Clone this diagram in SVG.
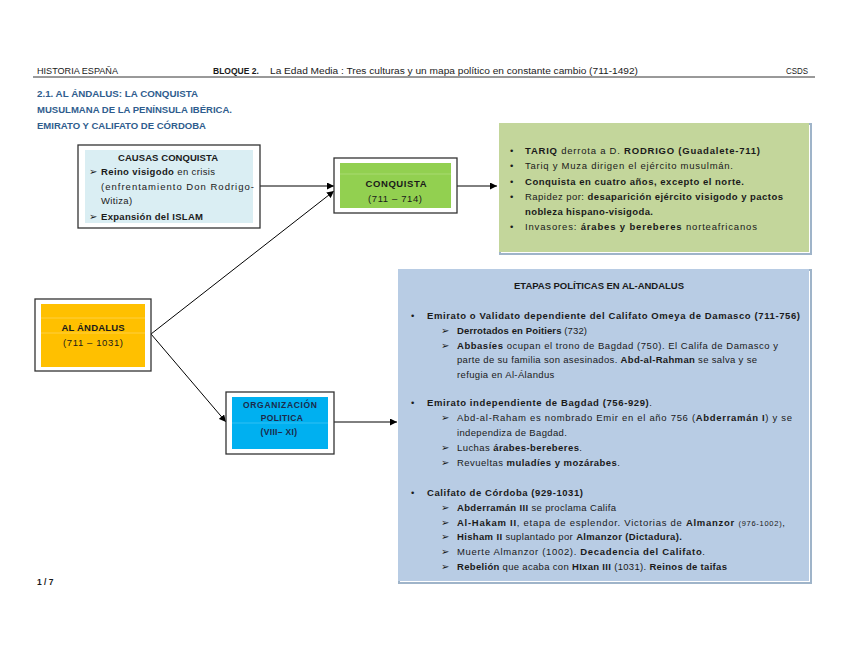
<svg xmlns="http://www.w3.org/2000/svg" width="848" height="655" viewBox="0 0 848 655">
<defs>
<marker id="ah" viewBox="0 0 10 10" refX="10" refY="5" markerWidth="7" markerHeight="7" markerUnits="userSpaceOnUse" orient="auto">
<path d="M0,0 L10,5 L0,10 z" fill="#000"/>
</marker>
</defs>
<style>
text{font-family:"Liberation Sans",Arial,sans-serif;fill:#1a1a1a;}
.hd{font-size:8.5px;}
.ti{font-size:9px;font-weight:bold;fill:#2f5d8e;}
.t{font-size:9.5px;}
.b{font-weight:bold;}
.c{text-anchor:middle;font-weight:bold;}
.ls{letter-spacing:0.35px;}
.frame{fill:#fff;stroke:#333;stroke-width:1.3;}
.conn{stroke:#000;stroke-width:1;fill:none;marker-end:url(#ah);}
.shadow{fill:none;stroke:#9fb4c9;stroke-width:2;}
.org{font-size:8.5px;fill:#1c2a4a;}
</style>
<rect width="848" height="655" fill="#fff"/>

<g id="header">
<text class="hd" x="37" y="74" textLength="81" lengthAdjust="spacingAndGlyphs">HISTORIA ESPAÑA</text>
<text class="hd b" x="213" y="74">BLOQUE 2.</text>
<text class="hd" x="270" y="74" textLength="368" lengthAdjust="spacingAndGlyphs">La Edad Media : Tres culturas y un mapa político en constante cambio (711-1492)</text>
<text class="hd" x="786" y="74" textLength="22" lengthAdjust="spacingAndGlyphs">CSDS</text>
<line x1="33" y1="77" x2="815" y2="77" stroke="#000" stroke-width="0.8"/>
</g>

<g id="title">
<text class="ti" x="37" y="97" textLength="161" lengthAdjust="spacingAndGlyphs">2.1.  AL ÁNDALUS: LA CONQUISTA</text>
<text class="ti" x="37" y="113" textLength="195" lengthAdjust="spacingAndGlyphs">MUSULMANA DE LA PENÍNSULA IBÉRICA.</text>
<text class="ti" x="37" y="129" textLength="169" lengthAdjust="spacingAndGlyphs">EMIRATO Y CALIFATO DE CÓRDOBA</text>
</g>

<g id="connectors">
<line class="conn" x1="260" y1="186" x2="334" y2="186"/>
<line class="conn" x1="151" y1="334" x2="334" y2="191"/>
<line class="conn" x1="151" y1="334" x2="226" y2="422"/>
<line class="conn" x1="457" y1="186" x2="497" y2="186"/>
<line class="conn" x1="334" y1="422" x2="397" y2="422"/>
</g>

<g id="causas">
<rect class="frame" x="78" y="145" width="182" height="83"/>
<rect x="85" y="150" width="168" height="73" fill="#daeef3"/>
<text class="t c" x="168" y="161" textLength="100" lengthAdjust="spacing">CAUSAS CONQUISTA</text>
<text class="t" x="89" y="175">➢</text>
<text class="t" x="101" y="175" textLength="114" lengthAdjust="spacing"><tspan class="b">Reino visigodo</tspan> en crisis</text>
<text class="t" x="101" y="190" textLength="153" lengthAdjust="spacing">(enfrentamiento Don Rodrigo-</text>
<text class="t ls" x="101" y="204">Witiza)</text>
<text class="t" x="89" y="220">➢</text>
<text class="t b" x="101" y="220" textLength="102" lengthAdjust="spacing">Expansión del ISLAM</text>
</g>

<g id="conquista">
<rect class="frame" x="334" y="158" width="123" height="55"/>
<rect x="340" y="163" width="111" height="45" fill="#92d050"/>
<line x1="340" y1="174" x2="451" y2="174" stroke="#a8da70" stroke-width="1"/>
<text class="t c" x="396" y="187" textLength="61" lengthAdjust="spacing">CONQUISTA</text>
<text class="t" x="395" y="202" text-anchor="middle" textLength="54" lengthAdjust="spacing">(711 – 714)</text>
</g>

<g id="hechos">
<rect class="shadow" x="500" y="124" width="311" height="130"/>
<rect x="499" y="123" width="310" height="129" fill="#c3d69b"/>
<g class="t">
<text x="510" y="154">•</text>
<text x="525" y="154" textLength="235" lengthAdjust="spacing"><tspan class="b">TARIQ</tspan> derrota a D. <tspan class="b">RODRIGO (Guadalete-711)</tspan></text>
<text x="510" y="169">•</text>
<text x="525" y="169" textLength="208" lengthAdjust="spacing">Tariq y Muza dirigen el ejército musulmán.</text>
<text x="510" y="185">•</text>
<text x="525" y="185" class="b" textLength="219" lengthAdjust="spacing">Conquista en cuatro años, excepto el norte.</text>
<text x="510" y="200">•</text>
<text x="525" y="200" textLength="258" lengthAdjust="spacing">Rapidez por: <tspan class="b">desaparición ejército visigodo y pactos</tspan></text>
<text x="525" y="215" class="b" textLength="128" lengthAdjust="spacing">nobleza hispano-visigoda.</text>
<text x="510" y="230">•</text>
<text x="525" y="230" textLength="232" lengthAdjust="spacing">Invasores: <tspan class="b">árabes y bereberes</tspan> norteafricanos</text>
</g>
</g>

<g id="alandalus">
<rect class="frame" x="35" y="299" width="116" height="72"/>
<rect x="41" y="304" width="104" height="63" fill="#ffc000"/>
<line x1="41" y1="318" x2="145" y2="318" stroke="#ffcf40" stroke-width="1"/>
<line x1="41" y1="333" x2="145" y2="333" stroke="#ffcf40" stroke-width="1"/>
<text class="t c" x="93" y="331" textLength="63" lengthAdjust="spacing">AL ÁNDALUS</text>
<text class="t" x="93" y="346" text-anchor="middle" textLength="60" lengthAdjust="spacing">(711 – 1031)</text>
</g>

<g id="organizacion">
<rect class="frame" x="226" y="392" width="108" height="62"/>
<rect x="232" y="397" width="96" height="52" fill="#00b0f0"/>
<line x1="232" y1="423" x2="328" y2="423" stroke="#30c0f4" stroke-width="1"/>
<text class="org c" x="280" y="408" textLength="74" lengthAdjust="spacing">ORGANIZACIÓN</text>
<text class="org c ls" x="282" y="421">POLITICA</text>
<text class="org c ls" x="279" y="435">(VIII– XI)</text>
</g>

<g id="etapas">
<rect class="shadow" x="399" y="270" width="412" height="313"/>
<rect x="398" y="269" width="411" height="312" fill="#b8cce4"/>
<g class="t">
<text class="c" x="599" y="289" textLength="170" lengthAdjust="spacing">ETAPAS POLÍTICAS EN AL-ANDALUS</text>
<text x="411" y="319">•</text>
<text x="427" y="319" class="b" textLength="373" lengthAdjust="spacing">Emirato o Validato dependiente del Califato Omeya de Damasco (711-756)</text>
<text x="441" y="334">➢</text>
<text x="457" y="334" textLength="130" lengthAdjust="spacing"><tspan class="b">Derrotados en Poitiers</tspan> (732)</text>
<text x="441" y="349">➢</text>
<text x="457" y="349" textLength="321" lengthAdjust="spacing"><tspan class="b">Abbasíes</tspan> ocupan el trono de Bagdad (750). El Califa de Damasco y</text>
<text x="457" y="363" textLength="300" lengthAdjust="spacing">parte de su familia son asesinados. <tspan class="b">Abd-al-Rahman</tspan> se salva y se</text>
<text class="ls" x="457" y="378">refugia en Al-Álandus</text>

<text x="411" y="406">•</text>
<text x="427" y="406" textLength="225" lengthAdjust="spacing"><tspan class="b">Emirato independiente de Bagdad (756-929)</tspan>.</text>
<text x="441" y="421">➢</text>
<text x="457" y="421" textLength="335" lengthAdjust="spacing">Abd-al-Raham  es nombrado Emir en el año 756 (<tspan class="b">Abderramán I</tspan>) y se</text>
<text class="ls" x="457" y="436">independiza de Bagdad.</text>
<text x="441" y="451">➢</text>
<text x="457" y="451" textLength="125" lengthAdjust="spacing">Luchas <tspan class="b">árabes-bereberes</tspan>.</text>
<text x="441" y="466">➢</text>
<text x="457" y="466" textLength="163" lengthAdjust="spacing">Revueltas <tspan class="b">muladíes y mozárabes</tspan>.</text>

<text x="411" y="496">•</text>
<text x="427" y="496" class="b" textLength="156" lengthAdjust="spacing">Califato de Córdoba (929-1031)</text>
<text x="441" y="511">➢</text>
<text class="ls" x="457" y="511"><tspan class="b">Abderramán III</tspan> se proclama Califa</text>
<text x="441" y="526">➢</text>
<text x="457" y="526" textLength="328" lengthAdjust="spacing"><tspan class="b">Al-Hakam II</tspan>, etapa de esplendor.  Victorias de <tspan class="b">Almanzor</tspan> <tspan style="font-size:7.5px">(976-1002)</tspan>,</text>
<text x="441" y="540">➢</text>
<text class="ls" x="457" y="540"><tspan class="b">Hisham II</tspan> suplantado por <tspan class="b">Almanzor  (Dictadura).</tspan></text>
<text x="441" y="555">➢</text>
<text x="457" y="555" textLength="248" lengthAdjust="spacing">Muerte Almanzor (1002).  <tspan class="b">Decadencia del Califato</tspan>.</text>
<text x="441" y="570">➢</text>
<text x="457" y="570" textLength="270" lengthAdjust="spacing"><tspan class="b">Rebelión</tspan> que acaba con <tspan class="b">HIxan III</tspan> (1031).  <tspan class="b">Reinos de taifas</tspan></text>
</g>
</g>

<g id="footer">
<text class="hd b" x="37" y="585">1 / 7</text>
</g>
</svg>
